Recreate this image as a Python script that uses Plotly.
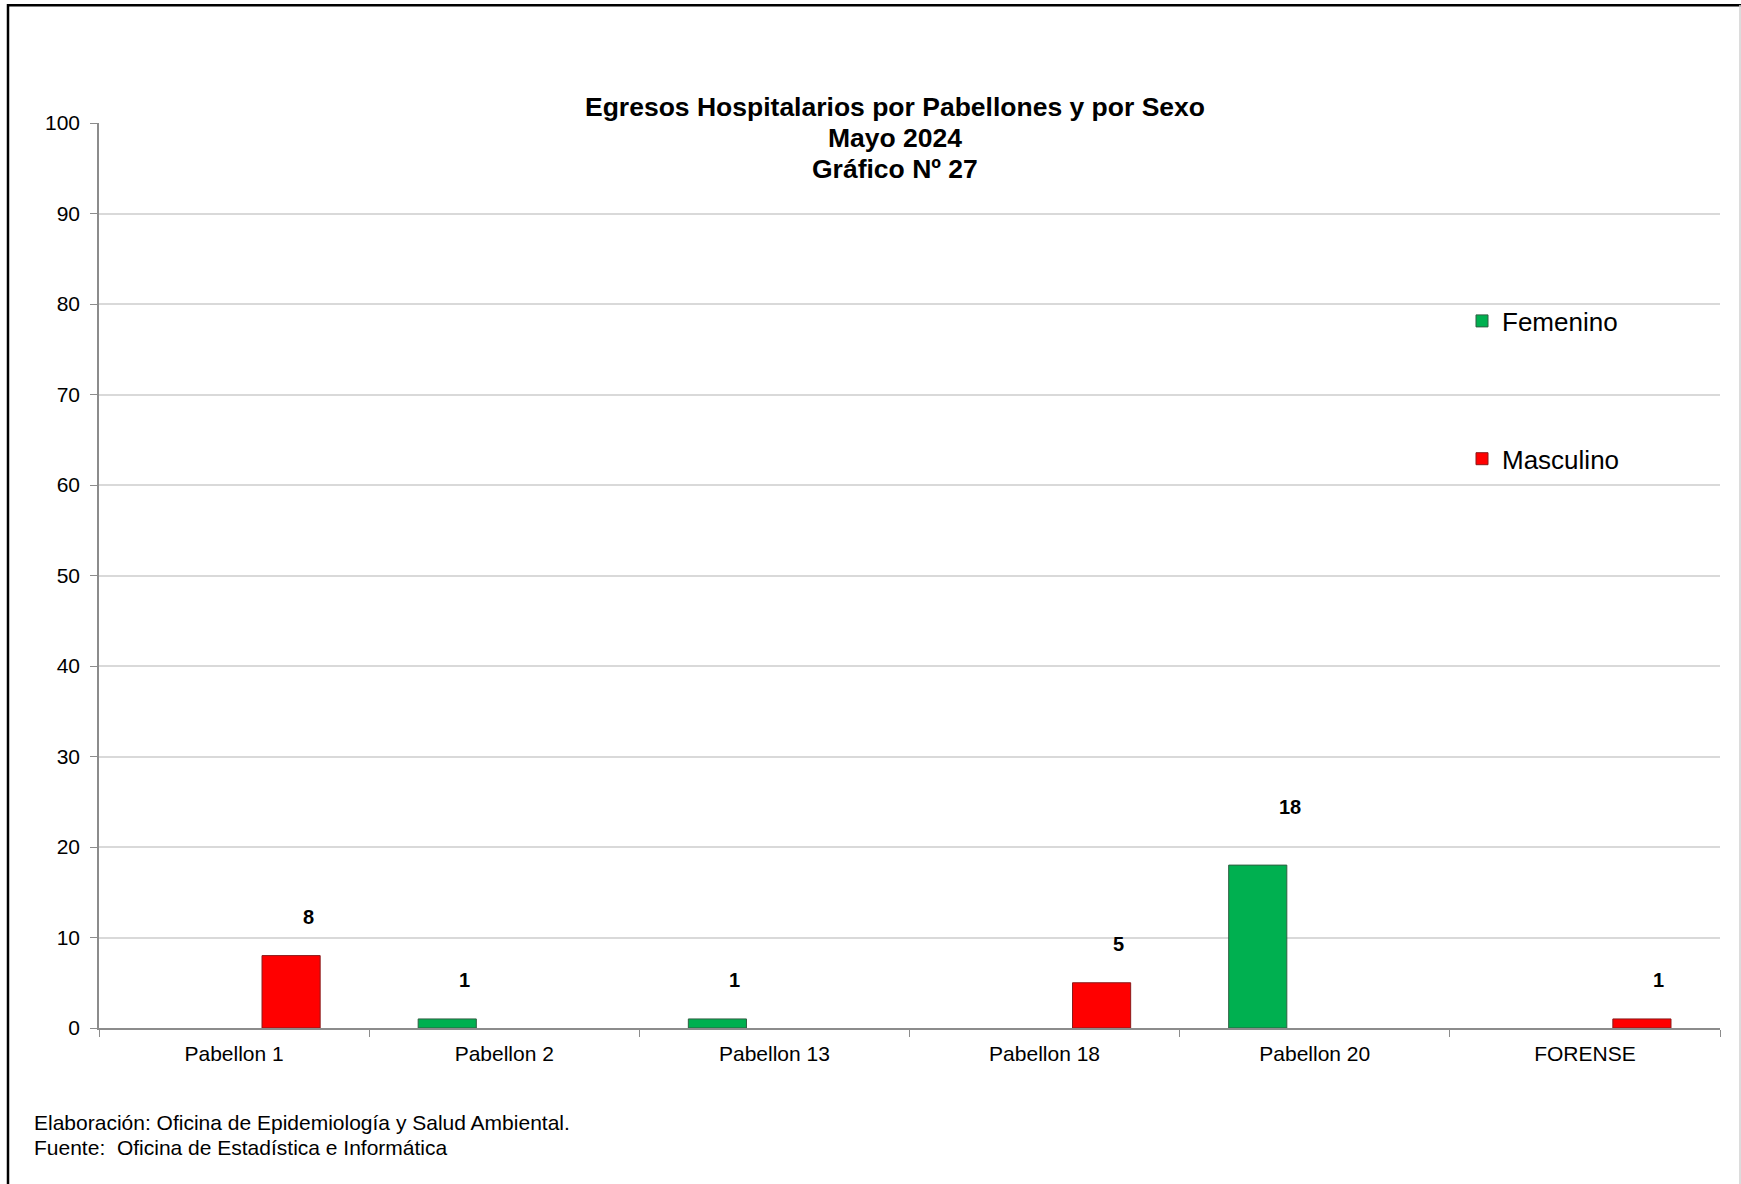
import plotly.graph_objects as go

# ---------------- data ----------------
categories = ["Pabellon 1", "Pabellon 2", "Pabellon 13", "Pabellon 18", "Pabellon 20", "FORENSE"]
femenino = [None, 1, 1, None, 18, None]
masculino = [8, None, None, 5, None, 1]

title_lines = ["Egresos Hospitalarios por Pabellones y por Sexo", "Mayo 2024", "Gráfico Nº 27"]
footer_lines = ["Elaboración: Oficina de Epidemiología y Salud Ambiental.",
                "Fuente:  Oficina de Estadística e Informática"]
y_ticks = list(range(0, 101, 10))

# ---------------- layout geometry (pixels) ----------------
W, H = 1741, 1184
L, R, T, B = 99, 1720, 123, 1028
PW, PH = R - L, B - T

def px_x(px):
    return (px - L) / PW

def px_y(py):
    return (B - py) / PH

FONT = "Liberation Sans, Arial, sans-serif"
GREEN = "#00B050"
RED = "#FF0000"

fig = go.Figure()
fig.add_trace(go.Bar(
    name="Femenino", x=categories, y=femenino, legendgroup="f",
    marker=dict(color=GREEN, line=dict(color="#2f5f42", width=1)),
))
fig.add_trace(go.Bar(
    name="Masculino", x=categories, y=masculino, legendgroup="m",
    marker=dict(color=RED, line=dict(color="#8a1a1a", width=1)),
))

# data labels
BAR_OFFSET = 57  # px from category centre
label_shift = {("Femenino", "Pabellon 20"): (32, 58)}
annotations = []
for name, vals, sign in [("Femenino", femenino, -1), ("Masculino", masculino, 1)]:
    for cat, v in zip(categories, vals):
        if v is None:
            continue
        dx, dy = label_shift.get((name, cat), (17, 39))
        annotations.append(dict(
            x=cat, y=v, xref="x", yref="y", text="<b>%s</b>" % v, showarrow=False,
            xshift=sign * BAR_OFFSET + dx, yshift=dy,
            font=dict(family=FONT, size=20, color="#000000"),
            xanchor="center", yanchor="middle",
        ))

# title lines 2 and 3
for i, line in enumerate(title_lines[1:]):
    annotations.append(dict(
        x=px_x(895), y=px_y(137.7 + i * 31.1), xref="paper", yref="paper",
        text="<b>%s</b>" % line, showarrow=False, xanchor="center", yanchor="middle",
        font=dict(family=FONT, size=26.5, color="#000000"),
    ))

# footer
for i, line in enumerate(footer_lines):
    annotations.append(dict(
        x=px_x(32), y=px_y(1122.5 + i * 24.5), xref="paper", yref="paper",
        text=line, showarrow=False, xanchor="left", yanchor="middle",
        font=dict(family=FONT, size=21, color="#000000"),
    ))

shapes = [
    # outer frame (left and top dark, right faint)
    dict(type="line", xref="paper", yref="paper", x0=px_x(8), x1=px_x(8),
         y0=px_y(4), y1=px_y(1200), line=dict(color="#000000", width=2.5)),
    dict(type="line", xref="paper", yref="paper", x0=px_x(7), x1=px_x(1745),
         y0=px_y(5.3), y1=px_y(5.3), line=dict(color="#000000", width=2.5)),
    dict(type="line", xref="paper", yref="paper", x0=px_x(1740), x1=px_x(1740),
         y0=px_y(5), y1=px_y(1200), line=dict(color="#d0d0d0", width=1.5)),
]

fig.update_layout(
    width=W, height=H,
    margin=dict(l=L, r=W - R, t=T, b=H - B, pad=0),
    paper_bgcolor="white", plot_bgcolor="white",
    font=dict(family=FONT, color="#000000"),
    barmode="group", bargap=0.156, bargroupgap=0.49,
    title=dict(
        text="<b>%s</b>" % title_lines[0],
        x=px_x(895), xref="paper", xanchor="center",
        y=1 - 106.6 / H, yref="container", yanchor="middle",
        font=dict(family=FONT, size=26.5, color="#000000"),
    ),
    xaxis=dict(
        type="category", showline=True, linecolor="#8c8c8c", linewidth=1.5,
        ticks="outside", tickson="boundaries", ticklen=7, tickcolor="#8c8c8c",
        tickfont=dict(family=FONT, size=21, color="#000000"),
        showgrid=False, ticklabelstandoff=6,
    ),
    yaxis=dict(
        range=[0, 100], tickvals=y_ticks, showline=True, linecolor="#8c8c8c",
        linewidth=1.5, ticks="outside", ticklen=7, tickcolor="#8c8c8c",
        showgrid=True, gridcolor="#d9d9d9", gridwidth=1.5, zeroline=False,
        tickfont=dict(family=FONT, size=21, color="#000000"), ticklabelstandoff=6,
    ),
    legend=dict(
        x=px_x(1462), y=px_y(297.5), xanchor="left", yanchor="top",
        xref="paper", yref="paper", traceorder="grouped", tracegroupgap=101,
        font=dict(family=FONT, size=26, color="#000000"), bgcolor="rgba(0,0,0,0)",
    ),
    annotations=annotations, shapes=shapes,
)

fig.write_html("out.html", config={"displayModeBar": False},
               post_script="document.body.style.margin='0';")
